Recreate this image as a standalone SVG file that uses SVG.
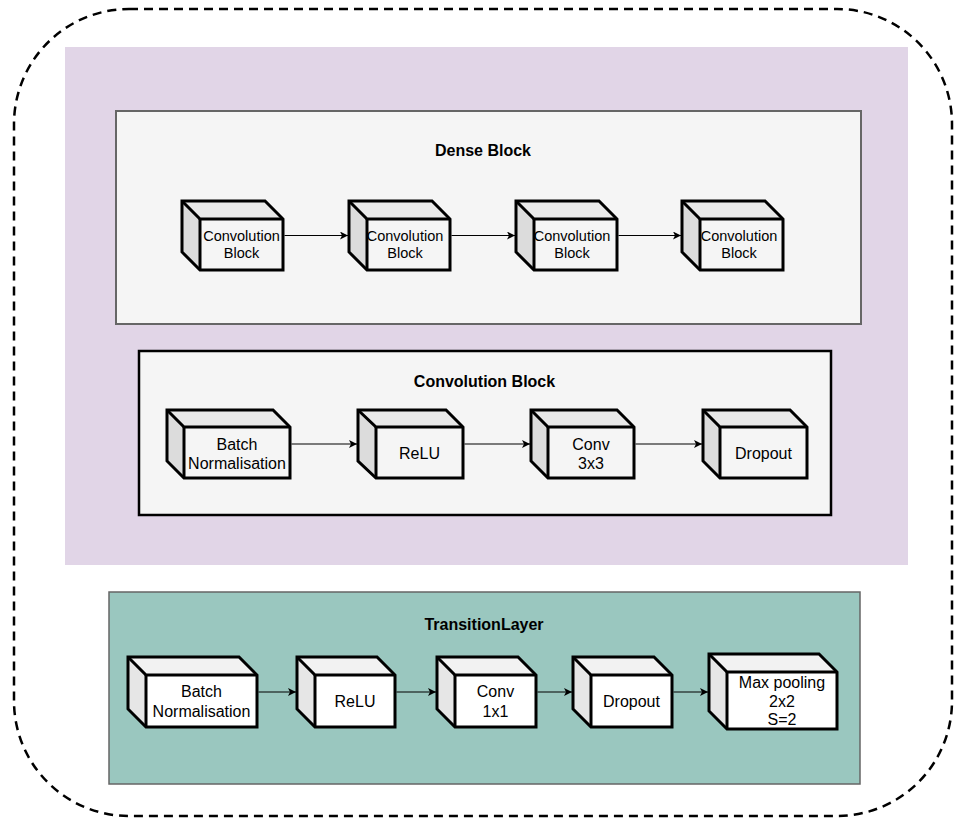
<svg xmlns="http://www.w3.org/2000/svg" width="954" height="819" viewBox="0 0 954 819">
<style>
text{font-family:"Liberation Sans",Arial,sans-serif;fill:#000;text-anchor:middle}
.title{font-weight:bold;font-size:16px}
.t14{font-size:14.5px}
.t16{font-size:16px}
.edge{stroke:#000;stroke-width:1.2;fill:none;marker-end:url(#arr)}
.out{fill:none;stroke:#000;stroke-width:3;stroke-linejoin:miter}
.g .front{fill:#f5f5f5}.g .top{fill:#e9e9e9}.g .side{fill:#dcdcdc}
.w .front{fill:#ffffff}.w .top{fill:#f2f2f2}.w .side{fill:#e6e6e6}
</style>
<defs>
<marker id="arr" markerWidth="10" markerHeight="8" refX="8" refY="4" orient="auto" markerUnits="userSpaceOnUse">
<path d="M0,0 L8,4 L0,8 L2,4 Z" fill="#000"/>
</marker>
</defs>

<g id="outer">
<rect x="14" y="9" width="938" height="807" rx="115" ry="115" fill="none" stroke="#000" stroke-width="2.5" stroke-dasharray="9 6"/>
</g>
<g id="purple-area">
<rect x="65" y="47" width="843" height="518" fill="#e1d5e7"/>
</g>
<g id="dense-block">
<rect x="116" y="111" width="745" height="213" fill="#f5f5f5" stroke="#666666" stroke-width="2"/>
<text class="title" x="483" y="156">Dense Block</text>
</g>
<g id="conv-block">
<rect x="139" y="351" width="692" height="164" fill="#f5f5f5" stroke="#000" stroke-width="2.5"/>
<text class="title" x="484.5" y="387">Convolution Block</text>
</g>
<g id="transition-layer">
<rect x="109" y="592" width="751" height="192" fill="#9ac7bf" stroke="#666666" stroke-width="1.5"/>
<text class="title" x="484" y="630">TransitionLayer</text>
</g>

<!-- Dense block cubes: w=101 h=69 d=18 y=201 -->
<g id="dense-cb1" class="g">
<rect class="front" x="200" y="219" width="83" height="51"/>
<polygon class="top" points="182,201 265,201 283,219 200,219"/>
<polygon class="side" points="182,201 200,219 200,270 182,252"/>
<polyline class="out" points="182,201 200,219 283,219"/><line class="out" x1="200" y1="219" x2="200" y2="270"/>
<polygon class="out" points="182,201 265,201 283,219 283,270 200,270 182,252"/>
<text class="t14" x="241.5" y="241">Convolution</text><text class="t14" x="241.5" y="258">Block</text>
</g>
<g id="dense-cb2" class="g">
<rect class="front" x="367" y="219" width="83" height="51"/>
<polygon class="top" points="349,201 432,201 450,219 367,219"/>
<polygon class="side" points="349,201 367,219 367,270 349,252"/>
<polyline class="out" points="349,201 367,219 450,219"/><line class="out" x1="367" y1="219" x2="367" y2="270"/>
<polygon class="out" points="349,201 432,201 450,219 450,270 367,270 349,252"/>
<text class="t14" x="405" y="241">Convolution</text><text class="t14" x="405" y="258">Block</text>
</g>
<g id="dense-cb3" class="g">
<rect class="front" x="534" y="219" width="83" height="51"/>
<polygon class="top" points="516,201 599,201 617,219 534,219"/>
<polygon class="side" points="516,201 534,219 534,270 516,252"/>
<polyline class="out" points="516,201 534,219 617,219"/><line class="out" x1="534" y1="219" x2="534" y2="270"/>
<polygon class="out" points="516,201 599,201 617,219 617,270 534,270 516,252"/>
<text class="t14" x="572" y="241">Convolution</text><text class="t14" x="572" y="258">Block</text>
</g>
<g id="dense-cb4" class="g">
<rect class="front" x="700" y="219" width="83" height="51"/>
<polygon class="top" points="682,201 765,201 783,219 700,219"/>
<polygon class="side" points="682,201 700,219 700,270 682,252"/>
<polyline class="out" points="682,201 700,219 783,219"/><line class="out" x1="700" y1="219" x2="700" y2="270"/>
<polygon class="out" points="682,201 765,201 783,219 783,270 700,270 682,252"/>
<text class="t14" x="739" y="241">Convolution</text><text class="t14" x="739" y="258">Block</text>
</g>

<!-- Conv block cubes: y=410 h=68 d=17 -->
<g id="cb-batchnorm" class="g">
<rect class="front" x="184" y="427" width="106" height="51"/>
<polygon class="top" points="167,410 273,410 290,427 184,427"/>
<polygon class="side" points="167,410 184,427 184,478 167,461"/>
<polyline class="out" points="167,410 184,427 290,427"/><line class="out" x1="184" y1="427" x2="184" y2="478"/>
<polygon class="out" points="167,410 273,410 290,427 290,478 184,478 167,461"/>
<text class="t16" x="237" y="450">Batch</text><text class="t16" x="237" y="469">Normalisation</text>
</g>
<g id="cb-relu" class="g">
<rect class="front" x="376" y="427" width="87" height="51"/>
<polygon class="top" points="358,410 446,410 463,427 376,427"/>
<polygon class="side" points="358,410 376,427 376,478 358,461"/>
<polyline class="out" points="358,410 376,427 463,427"/><line class="out" x1="376" y1="427" x2="376" y2="478"/>
<polygon class="out" points="358,410 446,410 463,427 463,478 376,478 358,461"/>
<text class="t16" x="419.5" y="459">ReLU</text>
</g>
<g id="cb-conv3x3" class="g">
<rect class="front" x="548" y="427" width="86" height="51"/>
<polygon class="top" points="531,410 617,410 634,427 548,427"/>
<polygon class="side" points="531,410 548,427 548,478 531,461"/>
<polyline class="out" points="531,410 548,427 634,427"/><line class="out" x1="548" y1="427" x2="548" y2="478"/>
<polygon class="out" points="531,410 617,410 634,427 634,478 548,478 531,461"/>
<text class="t16" x="591" y="450">Conv</text><text class="t16" x="591" y="469">3x3</text>
</g>
<g id="cb-dropout" class="g">
<rect class="front" x="720" y="427" width="87" height="51"/>
<polygon class="top" points="703,410 790,410 807,427 720,427"/>
<polygon class="side" points="703,410 720,427 720,478 703,461"/>
<polyline class="out" points="703,410 720,427 807,427"/><line class="out" x1="720" y1="427" x2="720" y2="478"/>
<polygon class="out" points="703,410 790,410 807,427 807,478 720,478 703,461"/>
<text class="t16" x="763.5" y="459">Dropout</text>
</g>

<!-- Transition cubes: y=657 h=70 d=18 -->
<g id="tl-batchnorm" class="w">
<rect class="front" x="146" y="675" width="111" height="52"/>
<polygon class="top" points="128,657 239,657 257,675 146,675"/>
<polygon class="side" points="128,657 146,675 146,727 128,709"/>
<polyline class="out" points="128,657 146,675 257,675"/><line class="out" x1="146" y1="675" x2="146" y2="727"/>
<polygon class="out" points="128,657 239,657 257,675 257,727 146,727 128,709"/>
<text class="t16" x="201.5" y="697">Batch</text><text class="t16" x="201.5" y="717">Normalisation</text>
</g>
<g id="tl-relu" class="w">
<rect class="front" x="315" y="675" width="80" height="52"/>
<polygon class="top" points="297,657 377,657 395,675 315,675"/>
<polygon class="side" points="297,657 315,675 315,727 297,709"/>
<polyline class="out" points="297,657 315,675 395,675"/><line class="out" x1="315" y1="675" x2="315" y2="727"/>
<polygon class="out" points="297,657 377,657 395,675 395,727 315,727 297,709"/>
<text class="t16" x="355" y="707">ReLU</text>
</g>
<g id="tl-conv1x1" class="w">
<rect class="front" x="455" y="675" width="81" height="52"/>
<polygon class="top" points="437,657 518,657 536,675 455,675"/>
<polygon class="side" points="437,657 455,675 455,727 437,709"/>
<polyline class="out" points="437,657 455,675 536,675"/><line class="out" x1="455" y1="675" x2="455" y2="727"/>
<polygon class="out" points="437,657 518,657 536,675 536,727 455,727 437,709"/>
<text class="t16" x="495.5" y="697">Conv</text><text class="t16" x="495.5" y="717">1x1</text>
</g>
<g id="tl-dropout" class="w">
<rect class="front" x="591" y="675" width="81" height="52"/>
<polygon class="top" points="573,657 654,657 672,675 591,675"/>
<polygon class="side" points="573,657 591,675 591,727 573,709"/>
<polyline class="out" points="573,657 591,675 672,675"/><line class="out" x1="591" y1="675" x2="591" y2="727"/>
<polygon class="out" points="573,657 654,657 672,675 672,727 591,727 573,709"/>
<text class="t16" x="631.5" y="707">Dropout</text>
</g>
<g id="tl-maxpool" class="w">
<rect class="front" x="727" y="672" width="110" height="57"/>
<polygon class="top" points="709,654 819,654 837,672 727,672"/>
<polygon class="side" points="709,654 727,672 727,729 709,711"/>
<polyline class="out" points="709,654 727,672 837,672"/><line class="out" x1="727" y1="672" x2="727" y2="729"/>
<polygon class="out" points="709,654 819,654 837,672 837,729 727,729 709,711"/>
<text class="t16" x="782" y="688">Max pooling</text><text class="t16" x="782" y="707">2x2</text><text class="t16" x="782" y="725">S=2</text>
</g>

<g id="connectors">
<line class="edge" x1="284.5" y1="235.5" x2="348" y2="235.5"/>
<line class="edge" x1="451.5" y1="235.5" x2="515" y2="235.5"/>
<line class="edge" x1="618.5" y1="235.5" x2="681" y2="235.5"/>
<line class="edge" x1="291.5" y1="444" x2="357" y2="444"/>
<line class="edge" x1="464.5" y1="444" x2="530" y2="444"/>
<line class="edge" x1="635.5" y1="444" x2="702" y2="444"/>
<line class="edge" x1="258.5" y1="692" x2="296" y2="692"/>
<line class="edge" x1="396.5" y1="692" x2="436" y2="692"/>
<line class="edge" x1="537.5" y1="692" x2="572" y2="692"/>
<line class="edge" x1="673.5" y1="692" x2="708" y2="692"/>
</g>
</svg>
